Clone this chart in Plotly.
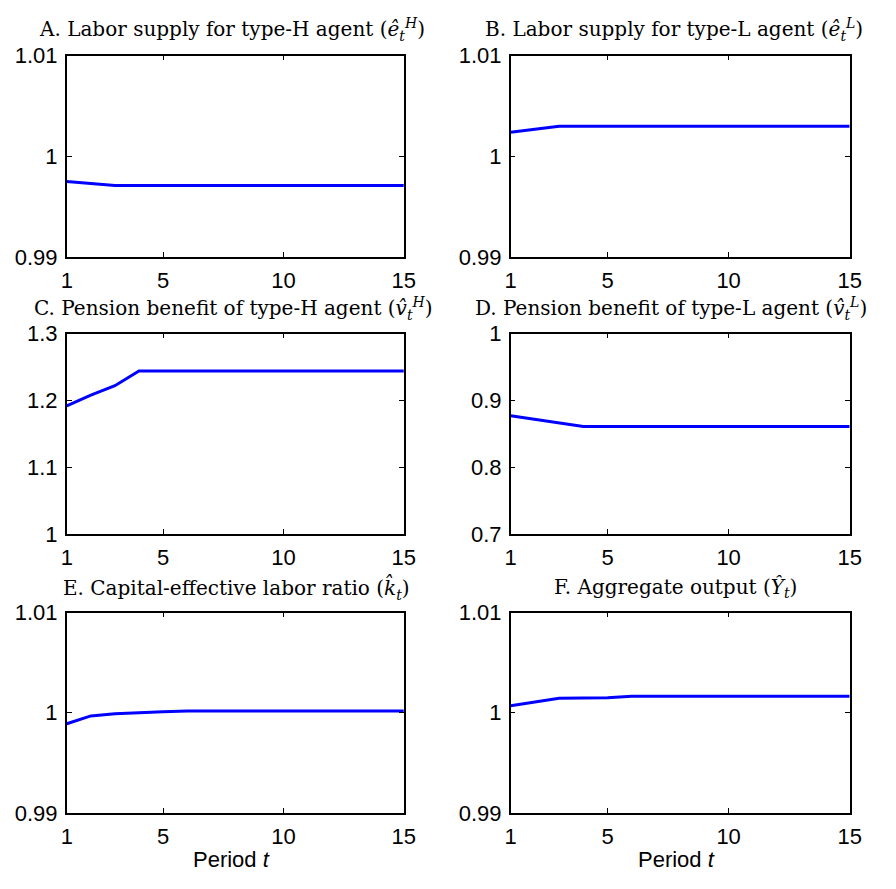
import plotly.graph_objects as go

period = list(range(1, 16))

labor_H = [0.9975, 0.9973, 0.9971, 0.9971, 0.9971, 0.9971, 0.9971, 0.9971,
           0.9971, 0.9971, 0.9971, 0.9971, 0.9971, 0.9971, 0.9971]
labor_L = [1.0024, 1.0027, 1.0030, 1.0030, 1.0030, 1.0030, 1.0030, 1.0030,
           1.0030, 1.0030, 1.0030, 1.0030, 1.0030, 1.0030, 1.0030]
pension_H = [1.192, 1.208, 1.222, 1.244, 1.244, 1.244, 1.244, 1.244,
             1.244, 1.244, 1.244, 1.244, 1.244, 1.244, 1.244]
pension_L = [0.877, 0.872, 0.866, 0.861, 0.861, 0.861, 0.861, 0.861,
             0.861, 0.861, 0.861, 0.861, 0.861, 0.861, 0.861]
capital_ratio = [0.9989, 0.99968, 0.9999, 1.00003, 1.0001, 1.00017, 1.00018, 1.00018,
                 1.00018, 1.00018, 1.00018, 1.00018, 1.00018, 1.00018, 1.00018]
output_Y = [1.0007, 1.0011, 1.00145, 1.00147, 1.0015, 1.00165, 1.00165, 1.00165,
            1.00165, 1.00165, 1.00165, 1.00165, 1.00165, 1.00165, 1.00165]

x_ticks = [1, 5, 10, 15]
y_ticks_small = [0.99, 1.0, 1.01]
y_ticklabels_small = ["0.99", "1", "1.01"]
y_ticks_C = [1.0, 1.1, 1.2, 1.3]
y_ticklabels_C = ["1", "1.1", "1.2", "1.3"]
y_ticks_D = [0.7, 0.8, 0.9, 1.0]
y_ticklabels_D = ["0.7", "0.8", "0.9", "1"]

titles = [
    "A. Labor supply for type-H agent (<i>ê</i><sub><i>t</i></sub><sup><i>H</i></sup>)",
    "B. Labor supply for type-L agent (<i>ê</i><sub><i>t</i></sub><sup><i>L</i></sup>)",
    "C. Pension benefit of type-H agent (<i>v\u0302</i><sub><i>t</i></sub><sup><i>H</i></sup>)",
    "D. Pension benefit of type-L agent (<i>v\u0302</i><sub><i>t</i></sub><sup><i>L</i></sup>)",
    "E. Capital-effective labor ratio (<i>k\u0302</i><sub><i>t</i></sub>)",
    "F. Aggregate output (<i>Ŷ</i><sub><i>t</i></sub>)",
]

series = [labor_H, labor_L, pension_H, pension_L, capital_ratio, output_Y]
yranges = [[0.99, 1.01], [0.99, 1.01], [1.0, 1.3], [0.7, 1.0], [0.99, 1.01], [0.99, 1.01]]
yticks = [(y_ticks_small, y_ticklabels_small), (y_ticks_small, y_ticklabels_small),
          (y_ticks_C, y_ticklabels_C), (y_ticks_D, y_ticklabels_D),
          (y_ticks_small, y_ticklabels_small), (y_ticks_small, y_ticklabels_small)]

W, H = 896, 889
xdom = [[62 / W, 406 / W], [515 / W, 861 / W]]
ydom = [[1 - 252 / H, 1 - 45 / H], [1 - 537 / H, 1 - 331 / H], [1 - 824 / H, 1 - 618 / H]]
title_pos = [(231, 18), (682, 18), (232, 305), (679, 305), (235, 593), (683, 593)]

fig = go.Figure()
layout = {}
annotations = []
tick_font = dict(family="Liberation Sans, Arial, sans-serif", size=22, color="black")
for i in range(6):
    r, c = divmod(i, 2)
    n = i + 1
    xa = "x" if n == 1 else f"x{n}"
    ya = "y" if n == 1 else f"y{n}"
    fig.add_trace(go.Scatter(x=period, y=series[i], mode="lines",
                             line=dict(color="#0000FF", width=3),
                             xaxis=xa, yaxis=ya, showlegend=False, hoverinfo="skip"))
    common = dict(showline=True, linecolor="black", linewidth=1.5, mirror="ticks",
                  ticks="inside", ticklen=5, tickwidth=1, tickcolor="black",
                  showgrid=False, zeroline=False, tickfont=tick_font)
    layout["xaxis" if n == 1 else f"xaxis{n}"] = dict(
        domain=xdom[c], range=[1, 15], tickvals=x_ticks, ticktext=[str(v) for v in x_ticks],
        anchor=ya, ticklabelstandoff=3, **common)
    tv, tt = yticks[i]
    layout["yaxis" if n == 1 else f"yaxis{n}"] = dict(
        domain=ydom[r], range=yranges[i], tickvals=tv, ticktext=tt, anchor=xa,
        ticklabelstandoff=3, **common)
    px, py = title_pos[i]
    annotations.append(dict(text=titles[i], xref="paper", yref="paper", x=px / W, y=1 - py / H,
                            xanchor="center", yanchor="middle", showarrow=False,
                            font=dict(family="DejaVu Serif, serif", size=20, color="black")))

for cx in (230, 684):
    annotations.append(dict(text="Period <i>t</i>", xref="paper", yref="paper", x=cx / W,
                            y=0, xanchor="center", yanchor="bottom", yshift=2, showarrow=False,
                            font=dict(family="Liberation Sans, Arial, sans-serif", size=22,
                                      color="black")))

fig.update_layout(width=W, height=H, margin=dict(l=0, r=0, t=0, b=0),
                  paper_bgcolor="white", plot_bgcolor="white",
                  annotations=annotations, **layout)
fig.write_html("out.html")
